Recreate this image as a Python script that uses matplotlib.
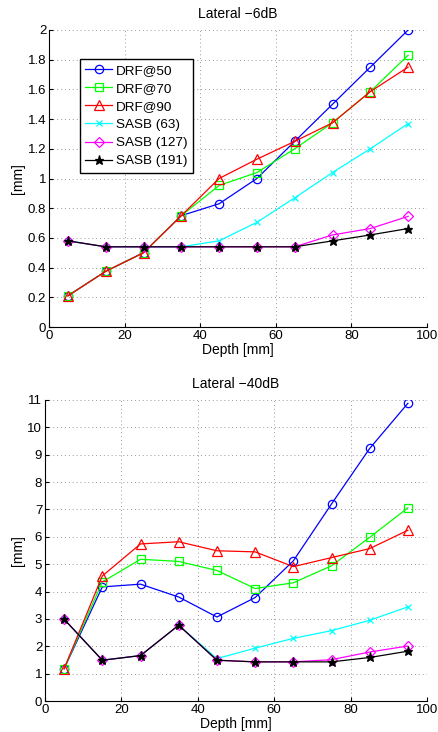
import numpy as np
import matplotlib.pyplot as plt

plt.rcParams['font.family'] = ['Liberation Sans', 'DejaVu Sans']
plt.rcParams['font.size'] = 10

depth = [5, 15, 25, 35, 45, 55, 65, 75, 85, 95]
labels = ['DRF@50', 'DRF@70', 'DRF@90', 'SASB (63)', 'SASB (127)', 'SASB (191)']

# Lateral -6dB
drf50_6 = [0.21, 0.375, 0.5, 0.75, 0.83, 1.0, 1.25, 1.5, 1.75, 2.0]
drf70_6 = [0.21, 0.375, 0.5, 0.75, 0.953, 1.04, 1.2, 1.375, 1.585, 1.83]
drf90_6 = [0.21, 0.375, 0.5, 0.75, 1.0, 1.13, 1.25, 1.375, 1.585, 1.75]
sasb63_6 = [0.58, 0.54, 0.54, 0.54, 0.58, 0.705, 0.87, 1.04, 1.2, 1.37]
sasb127_6 = [0.58, 0.54, 0.54, 0.54, 0.54, 0.54, 0.54, 0.62, 0.663, 0.745]
sasb191_6 = [0.58, 0.54, 0.54, 0.54, 0.54, 0.54, 0.54, 0.58, 0.62, 0.663]

# Lateral -40dB
drf50_40 = [1.18, 4.17, 4.27, 3.8, 3.07, 3.78, 5.12, 7.2, 9.23, 10.88]
drf70_40 = [1.18, 4.35, 5.18, 5.1, 4.77, 4.11, 4.32, 4.94, 5.98, 7.06]
drf90_40 = [1.18, 4.57, 5.74, 5.82, 5.49, 5.45, 4.91, 5.24, 5.57, 6.24]
sasb63_40 = [2.99, 1.49, 1.66, 2.77, 1.55, 1.93, 2.29, 2.57, 2.95, 3.44]
sasb127_40 = [2.99, 1.49, 1.66, 2.77, 1.49, 1.43, 1.43, 1.51, 1.79, 2.01]
sasb191_40 = [2.99, 1.49, 1.66, 2.77, 1.49, 1.43, 1.43, 1.43, 1.59, 1.82]

styles = [('#0000ff', 'o', 6), ('#00ff00', 's', 5.5), ('#ff0000', '^', 7),
          ('#00ffff', 'x', 4.5), ('#ff00ff', 'D', 5), ('#000000', '*', 6.5)]

fig = plt.figure(figsize=(4.38, 7.32), dpi=100)
ax1 = fig.add_axes([49/438, 1-327/732, 378/438, 297/732])
ax2 = fig.add_axes([45/438, 1-701/732, 382/438, 301/732])

def draw(ax, series, ymax, yticks, title):
    for ys, (c, m, ms), lab in zip(series, styles, labels):
        fc = c if m == '*' else 'none'
        ax.plot(depth, ys, color=c, marker=m, ms=ms, mfc=fc, mec=c,
                lw=0.9, mew=0.9, label=lab)
    ax.set_xlim(0, 100)
    ax.set_ylim(0, ymax)
    ax.set_xticks(range(0, 101, 20))
    ax.set_yticks(yticks)
    ax.set_yticklabels(['%g' % t for t in yticks])
    ax.grid(True, color='#999999', ls=(0, (1, 3)), lw=0.7)
    for s in ['top', 'right']:
        ax.spines[s].set_visible(False)
    ax.tick_params(direction='in', length=3, pad=2, labelsize=9.5)
    ax.set_xlabel('Depth [mm]', labelpad=1)
    ax.set_ylabel('[mm]', labelpad=2)
    ax.set_title(title, fontsize=10, pad=9)

draw(ax1, [drf50_6, drf70_6, drf90_6, sasb63_6, sasb127_6, sasb191_6],
     2, np.round(np.arange(0, 2.01, 0.2), 1), 'Lateral \u22126dB')
draw(ax2, [drf50_40, drf70_40, drf90_40, sasb63_40, sasb127_40, sasb191_40],
     11, list(range(0, 12)), 'Lateral \u221240dB')

leg = ax1.legend(loc='upper left', bbox_to_anchor=(0.082, 0.902), borderaxespad=0,
                 fontsize=9.7, fancybox=False, framealpha=1, handlelength=2.0,
                 handletextpad=0.3, labelspacing=0.42, borderpad=0.4)
leg.get_frame().set_edgecolor('black')
leg.get_frame().set_linewidth(1.0)

fig.savefig('out.png', dpi=100)
